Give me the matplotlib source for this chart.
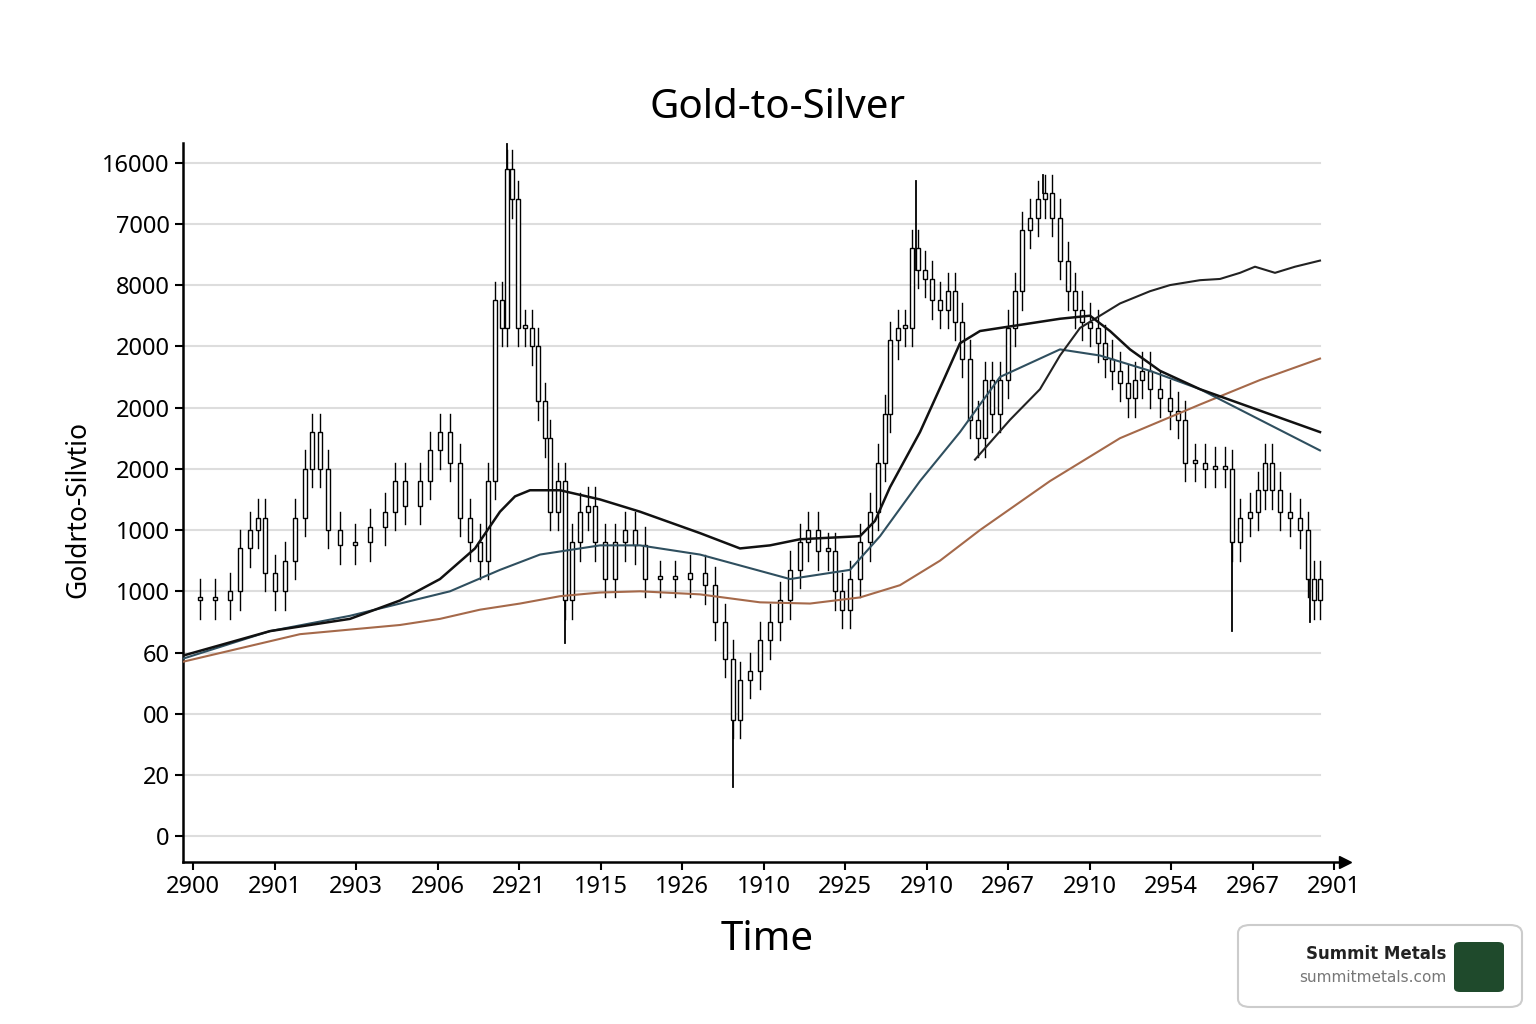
import matplotlib.pyplot as plt
from matplotlib.patches import FancyBboxPatch, Rectangle

plt.rcParams['font.family'] = 'Noto Sans'

# x positions are in "time" units laid out like the picture
t = [183, 200, 215, 230, 240, 250, 258, 265, 275, 285, 295, 305, 312, 320, 328, 340, 355, 370, 385, 395,
     405, 420, 430, 440, 450, 460, 470, 480, 488, 495, 502, 507, 512, 518, 525, 532, 538, 545, 550, 558,
     565, 572, 580, 588, 595, 605, 615, 625, 635, 645, 660, 675, 690, 705, 715, 725, 733, 740, 750, 760,
     770, 780, 790, 800, 808, 818, 828, 835, 842, 850, 860, 870, 878, 885, 890, 898, 905, 912, 918, 925,
     932, 940, 948, 955, 962, 970, 978, 985, 992, 1000, 1008, 1015, 1022, 1030, 1038, 1045, 1052, 1060, 1068, 1075,
     1082, 1090, 1098, 1105, 1112, 1120, 1128, 1135, 1142, 1150, 1160, 1170, 1178, 1185, 1195, 1205, 1215, 1225, 1232, 1240,
     1250, 1258, 1265, 1272, 1280, 1290, 1300, 1308, 1314, 1320]
price = [3.85, 3.9, 3.85, 4.0, 4.7, 5.0, 5.2, 4.3, 4.0, 4.5, 5.2, 6.0, 6.6, 6.0, 5.0, 4.75, 4.8, 5.05, 5.3, 5.8,
         5.4, 5.8, 6.3, 6.6, 6.1, 5.2, 4.8, 4.5, 5.8, 8.75, 8.3, 10.9, 10.4, 8.3, 8.3, 8.0, 7.1, 6.5, 5.3, 5.8,
         3.85, 4.8, 5.3, 5.4, 4.8, 4.2, 4.8, 5.0, 4.75, 4.2, 4.2, 4.2, 4.3, 4.1, 3.5, 2.9, 1.9, 2.55, 2.7, 3.2,
         3.5, 3.85, 4.35, 4.8, 5.0, 4.65, 4.65, 4.0, 3.7, 4.2, 4.8, 5.3, 6.1, 6.9, 8.1, 8.3, 8.3, 9.6, 9.25, 9.1,
         8.75, 8.6, 8.9, 8.4, 7.8, 6.8, 6.5, 7.45, 6.9, 7.45, 8.3, 8.9, 9.9, 10.1, 10.4, 10.5, 10.1, 9.4, 8.9, 8.6,
         8.4, 8.3, 8.05, 7.8, 7.6, 7.4, 7.15, 7.45, 7.6, 7.3, 7.15, 6.95, 6.8, 6.1, 6.1, 6.0, 6.05, 6.0, 4.8, 5.2,
         5.3, 5.65, 6.1, 5.65, 5.3, 5.2, 5.0, 4.2, 3.85, 4.2]
spike_t = [183, 507, 565, 733, 916, 1043, 1232, 1310]
spike_y = [3.35, 11.3, 3.15, 0.8, 10.7, 10.8, 3.35, 3.5]

ma1_t = [183, 270, 350, 400, 440, 475, 500, 515, 530, 560, 600, 640, 700, 740, 770, 800, 860, 875, 890, 920,
         945, 960, 980, 1000, 1060, 1090, 1110, 1130, 1160, 1200, 1260, 1320]
ma1_y = [2.95, 3.35, 3.55, 3.85, 4.2, 4.7, 5.3, 5.55, 5.65, 5.65, 5.5, 5.3, 4.95, 4.7, 4.75, 4.85, 4.9, 5.15, 5.7,
         6.6, 7.5, 8.05, 8.25, 8.3, 8.45, 8.5, 8.25, 7.95, 7.6, 7.3, 6.95, 6.6]
ma2_t = [183, 270, 350, 450, 500, 540, 600, 640, 700, 790, 850, 880, 920, 960, 1000, 1060, 1100, 1150, 1200, 1260, 1320]
ma2_y = [2.9, 3.35, 3.6, 4.0, 4.35, 4.6, 4.75, 4.75, 4.6, 4.2, 4.35, 4.9, 5.8, 6.6, 7.5, 7.95, 7.85, 7.6, 7.3, 6.8, 6.3]
ma3_t = [975, 1010, 1040, 1060, 1080, 1100, 1120, 1150, 1170, 1200, 1220, 1240, 1255, 1275, 1295, 1320]
ma3_y = [6.15, 6.8, 7.3, 7.85, 8.3, 8.5, 8.7, 8.9, 9.0, 9.08, 9.1, 9.2, 9.3, 9.2, 9.3, 9.4]
ma4_t = [183, 300, 400, 440, 480, 520, 560, 600, 640, 700, 760, 810, 860, 900, 940, 980, 1050, 1120, 1200, 1260, 1320]
ma4_y = [2.85, 3.3, 3.45, 3.55, 3.7, 3.8, 3.92, 3.98, 4.0, 3.95, 3.82, 3.8, 3.9, 4.1, 4.5, 5.0, 5.8, 6.5, 7.05, 7.45, 7.8]

ytick_labels = ["0", "20", "00", "60", "1000", "1000", "2000", "2000", "2000", "8000", "7000", "16000"]
xtick_labels = ["2900", "2901", "2903", "2906", "2921", "1915", "1926", "1910", "2925", "2910",
                "2967", "2910", "2954", "2967", "2901"]

fig = plt.figure(figsize=(15.36, 10.24), dpi=100)
ax = fig.add_axes([183 / 1536, 1 - 862 / 1024, 1162 / 1536, 719 / 1024])
ax.set_xlim(183, 1345)
ax.set_ylim(-0.42, 11.32)

for i in range(len(ytick_labels)):
    ax.plot([183, 1320], [i, i], color='#dddddd', lw=1.5, zorder=0)

# candles
for i in range(1, len(t)):
    o, c = price[i - 1], price[i]
    lo, hi = min(o, c), max(o, c)
    w = 3.5
    ax.plot([t[i], t[i]], [lo - 0.3, hi + 0.3], color='black', lw=1, zorder=2)
    ax.add_patch(Rectangle((t[i] - w / 2, lo), w, max(hi - lo, 0.05), facecolor='white',
                           edgecolor='black', lw=1, zorder=3))
for st, sy in zip(spike_t, spike_y):
    j = min(range(len(t)), key=lambda k: abs(t[k] - st))
    ax.plot([st, st], [price[j], sy], color='black', lw=1.3, zorder=2)

ax.plot(ma4_t, ma4_y, color='#a5694a', lw=1.5, zorder=4)
ax.plot(ma2_t, ma2_y, color='#2f4f5f', lw=1.5, zorder=4)
ax.plot(ma3_t, ma3_y, color='#222222', lw=1.5, zorder=4)
ax.plot(ma1_t, ma1_y, color='#111111', lw=1.8, zorder=4)

ax.set_yticks(range(len(ytick_labels)))
ax.set_yticklabels(ytick_labels, fontsize=17)
ax.set_xticks([193 + 81.5 * i for i in range(len(xtick_labels))])
ax.set_xticklabels(xtick_labels, fontsize=17)
ax.tick_params(length=6, width=1.5)
for s in ['top', 'right']:
    ax.spines[s].set_visible(False)
ax.spines['left'].set_linewidth(1.8)
ax.spines['bottom'].set_linewidth(1.8)
ax.plot([1], [0], marker='>', color='black', ms=9, transform=ax.transAxes, clip_on=False)

fig.text(778 / 1536, 1 - 108 / 1024, 'Gold-to-Silver', fontsize=29, ha='center', va='center')
fig.text(78 / 1536, 1 - 510 / 1024, 'Goldrto-Silvtio', fontsize=19, rotation=90, ha='center', va='center')
fig.text(767 / 1536, 1 - 940 / 1024, 'Time', fontsize=29, ha='center', va='center')

# watermark badge
fig.patches.append(FancyBboxPatch((1238 / 1536, 1 - 1007 / 1024), 284 / 1536, 82 / 1024,
                                  boxstyle='round,pad=0,rounding_size=0.008', transform=fig.transFigure,
                                  facecolor='white', edgecolor='#cccccc', lw=1.5))
fig.text(1446 / 1536, 1 - 954 / 1024, 'Summit Metals', fontsize=12, weight='bold', ha='right', va='center',
         color='#222222', family='DejaVu Sans')
fig.text(1446 / 1536, 1 - 978 / 1024, 'summitmetals.com', fontsize=11, ha='right', va='center', color='#777777',
         family='DejaVu Sans')
fig.patches.append(FancyBboxPatch((1454 / 1536, 1 - 992 / 1024), 50 / 1536, 50 / 1024,
                                  boxstyle='round,pad=0,rounding_size=0.004', transform=fig.transFigure,
                                  facecolor='#1f4a2c', edgecolor='none'))

fig.savefig('out.png', dpi=100, facecolor='white')
